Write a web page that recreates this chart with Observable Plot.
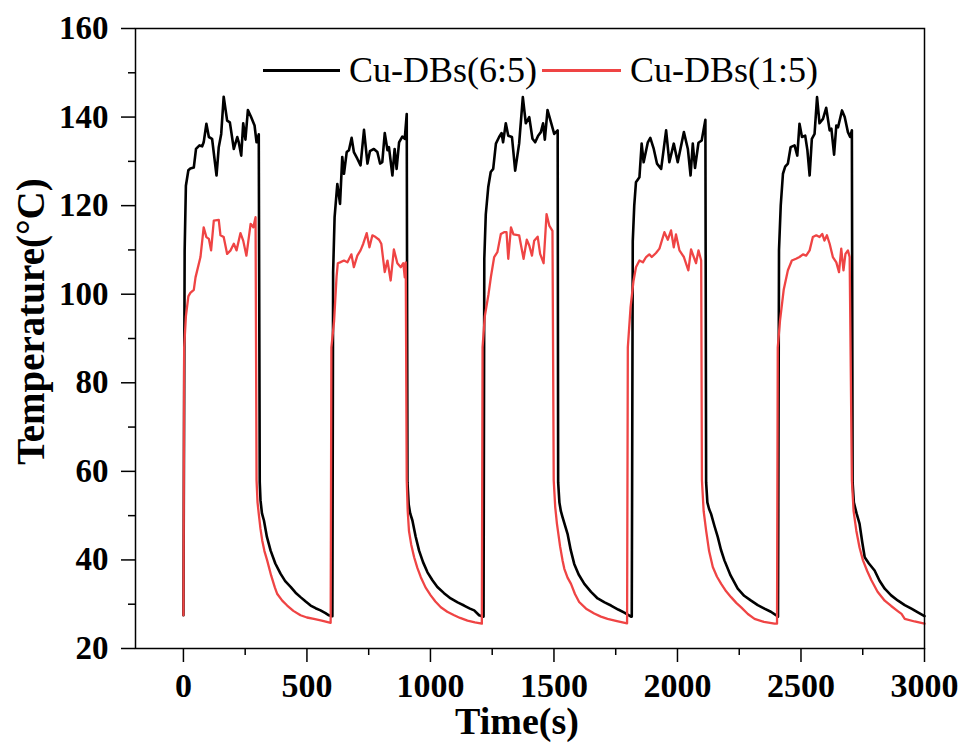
<!DOCTYPE html>
<html><head><meta charset="utf-8">
<script src="https://cdn.jsdelivr.net/npm/d3@7"></script>
<script src="https://cdn.jsdelivr.net/npm/@observablehq/plot@0.6"></script>
<style>
body{margin:0;background:#fff;}
#wrap{position:relative;width:963px;height:745px;}
.leg{position:absolute;font-family:"Liberation Serif","Times New Roman",serif;font-size:36px;line-height:36px;color:#000;white-space:nowrap;}
.sw{position:absolute;height:3px;}
</style></head><body><div id="wrap"></div>
<script>
const seriesNames = ["Cu-DBs(6:5)", "Cu-DBs(1:5)"];
const seriesColors = ["#000000", "#ef4444"];
const xTitle = "Time(s)";
const yTitle = "Temperature(\u00B0C)";
const xTicks = [0, 500, 1000, 1500, 2000, 2500, 3000];
const xMinor = [250, 750, 1250, 1750, 2250, 2750];
const yTicks = [20, 40, 60, 80, 100, 120, 140, 160];
const yMinor = [30, 50, 70, 90, 110, 130, 150];

// Cu-DBs(6:5): [time (s), temperature (°C)]
const cu65 = [
 [0,27.5],[5,110],[10,124.5],[20,128],[28,128.4],[42,128.6],[51,132.8],[65,133.6],[76,133.4],[82,134.3],[93,138.5],[103,135.5],[116,135.1],[134,126.8],[143,133.2],[153,136.2],[163,144.6],[177,139.2],[188,138.8],[204,132.8],[218,135.5],[224,134.3],[234,131.3],[242,138.6],[251,134.9],[261,141.6],[274,140.0],[288,138.1],[296,134.3],[305,136.1],
 [309,57.5],[312,53.5],[318,50.5],[326,48.9],[338,45.2],[353,42.1],[372,39.2],[393,36.9],[412,35.2],[434,33.9],[454,32.6],[474,31.6],[495,30.6],[515,29.7],[535,29.1],[555,28.6],[575,28.0],[589,27.5],[600,27.3],
 [603,27.3],[606,105],[612,117.4],[623,124.9],[634,120.4],[643,131.0],[650,127.2],[661,132.1],[670,132.5],[681,135.3],[690,132.1],[704,130.6],[717,129.1],[731,137.1],[745,129.5],[755,132.3],[771,132.8],[785,132.1],[796,129.5],[805,129.8],[815,136.4],[826,132.5],[832,133.2],[846,126.8],[855,132.8],[863,128.3],[873,134.3],[886,135.6],[896,135.1],[904,140.7],
 [907,57.5],[912,52.5],[918,50.5],[927,48.9],[940,45.3],[954,42.1],[970,39.5],[988,37.2],[1008,35.4],[1028,33.9],[1055,32.5],[1082,31.3],[1110,30.4],[1136,29.7],[1160,29.0],[1177,28.6],[1197,27.5],[1212,27.2],
 [1215,27.2],[1218,108],[1224,118],[1234,124.2],[1244,127.6],[1254,128.3],[1265,134.0],[1278,135.5],[1288,136.4],[1294,134.3],[1305,138.6],[1315,135.8],[1330,135.5],[1343,127.9],[1359,134.0],[1374,144.5],[1386,138.6],[1400,140.0],[1413,135.1],[1424,134.3],[1436,135.8],[1447,136.6],[1456,138.6],[1463,134.9],[1474,141.6],[1488,138.8],[1501,136.2],[1515,137.0],
 [1517,57.5],[1522,53],[1528,51],[1535,49.6],[1555,45.9],[1568,42.2],[1582,39.1],[1600,36.7],[1623,34.6],[1650,32.8],[1677,31.3],[1705,30.4],[1731,29.7],[1760,28.8],[1785,28.1],[1812,27.2],
 [1815,27.2],[1819,112],[1825,120],[1832,125.3],[1846,126.4],[1855,134.0],[1863,129.8],[1880,134.3],[1890,135.3],[1904,132.8],[1917,129.5],[1934,128.3],[1954,137.0],[1967,129.8],[1985,134.0],[2001,129.8],[2026,136.6],[2042,132.8],[2053,126.8],[2062,134.0],[2071,128.5],[2085,134.2],[2098,134.7],[2113,139.4],
 [2116,57.5],[2121,53],[2128,51.5],[2136,50.4],[2150,47.6],[2163,45.2],[2176,42.3],[2190,39.9],[2215,36.5],[2244,33.5],[2270,31.9],[2298,30.8],[2325,29.8],[2352,29.0],[2378,28.3],[2400,27.5],[2407,27.2],
 [2411,110],[2418,120],[2427,127.2],[2436,128.8],[2447,129.5],[2458,133.2],[2474,133.6],[2485,131.3],[2494,138.5],[2504,135.5],[2517,135.8],[2526,132.5],[2535,126.8],[2544,135.1],[2555,136.2],[2565,144.5],[2575,138.6],[2589,139.6],[2602,142.1],[2616,137.0],[2623,137.4],[2634,131.5],[2643,138.1],[2650,137.7],[2666,141.5],[2677,140.0],[2690,136.6],[2699,135.5],[2706,137.0],
 [2709,57.5],[2714,53],[2725,50.5],[2737,48.2],[2748,44],[2758,40.6],[2775,39.2],[2798,37.6],[2818,35.3],[2839,33.5],[2865,32.0],[2893,30.8],[2920,29.8],[2947,29.0],[2975,28.1],[3000,27.3]
];

// Cu-DBs(1:5): [time (s), temperature (°C)]
const cu15 = [
 [0,27.5],[3,88],[10,95],[20,99.5],[28,100.3],[42,101],[49,103.8],[69,108.4],[82,115.1],[93,112.9],[103,112.5],[112,109.9],[123,116.6],[143,116.8],[150,113.3],[163,112.9],[177,109.1],[191,109.9],[204,111.4],[215,109.9],[231,113.8],[242,112.1],[255,108.7],[272,115.9],[283,115.1],[292,117.4],
 [296,58],[300,53],[305,50.4],[312,47],[319,44.4],[328,42],[339,39.9],[355,36.5],[370,33.8],[380,32.3],[400,30.8],[420,29.7],[445,28.5],[474,27.5],[500,27.0],[528,26.7],[560,26.3],[596,25.8],
 [599,88],[610,94],[620,104],[625,107],[634,107.2],[650,107.6],[664,107.2],[680,109.0],[690,106.1],[704,108.7],[717,109.9],[728,111.4],[742,113.8],[753,110.6],[765,113.3],[778,112.9],[792,112.3],[801,111.4],[815,105.0],[826,107.6],[839,103.1],[852,110.1],[866,107.0],[880,106.1],[890,107.0],[896,103.8],[900,107.2],
 [904,58],[908,51],[913,46.6],[922,43.5],[934,40.6],[947,38.2],[961,36.1],[980,33.8],[1001,32.0],[1020,30.6],[1042,29.3],[1068,28.3],[1096,27.5],[1120,26.9],[1150,26.3],[1180,25.9],[1208,25.6],
 [1211,88],[1220,95],[1235,100],[1245,104],[1258,108.4],[1271,109.5],[1285,113.6],[1298,114.0],[1308,114.0],[1315,108.0],[1326,115.1],[1336,113.5],[1359,113.3],[1377,108.0],[1390,112.3],[1400,111.0],[1411,108.7],[1420,112.1],[1434,113.0],[1444,109.1],[1458,107.0],[1470,118.1],[1481,115.5],[1494,114.3],
 [1499,58],[1505,52],[1512,48.2],[1525,43],[1535,39.8],[1542,38.0],[1555,36.0],[1569,34.6],[1585,32.3],[1602,30.5],[1630,29.0],[1663,27.9],[1690,27.2],[1717,26.7],[1755,26.2],[1796,25.7],
 [1799,88],[1810,97],[1822,103],[1832,106.1],[1846,107.6],[1860,107.2],[1873,108.4],[1886,109.0],[1896,108.4],[1913,109.3],[1927,110.3],[1947,114.0],[1961,112.3],[1974,114.4],[1985,110.6],[1994,113.5],[2008,109.9],[2026,108.4],[2044,105.4],[2055,110.1],[2066,108.4],[2075,107.0],[2085,109.9],[2096,107.6],
 [2099,58],[2106,51],[2116,46.6],[2128,42.0],[2143,38.4],[2160,36.2],[2177,34.6],[2197,32.9],[2217,31.6],[2238,30.3],[2258,29.3],[2285,27.8],[2312,26.7],[2350,26.0],[2393,25.6],[2403,25.6],
 [2406,88],[2415,94],[2430,101],[2447,105.4],[2463,107.6],[2480,108.0],[2494,108.4],[2508,109.0],[2521,108.7],[2535,109.9],[2548,112.9],[2562,113.3],[2575,112.9],[2586,113.6],[2595,112.1],[2605,113.3],[2616,111.4],[2629,108.4],[2643,107.2],[2654,105.0],[2663,110.3],[2672,105.4],[2680,109.1],[2690,109.9],[2697,108.4],
 [2706,58],[2713,51],[2724,46.6],[2737,42.8],[2751,39.9],[2768,37.5],[2785,35.4],[2810,32.8],[2839,30.8],[2865,29.6],[2893,28.4],[2907,27.8],[2920,26.7],[2960,26.1],[3000,25.6]
];

const dataA = cu65.map(([t, v]) => ({t, v}));
const dataB = cu15.map(([t, v]) => ({t, v}));

const font = '"Liberation Serif","Times New Roman",serif';
const chart = Plot.plot({
  width: 963, height: 745,
  marginLeft: 135, marginRight: 39, marginTop: 28, marginBottom: 97,
  x: {domain: [-194, 3000]},
  y: {domain: [20, 160]},
  style: {fontFamily: font, background: "white", color: "black", overflow: "visible"},
  marks: [
    Plot.axisX(xMinor, {tickSize: 7, strokeWidth: 1.5, tickFormat: () => "", label: null}),
    Plot.axisX(xTicks, {tickSize: 14, tickPadding: 10, strokeWidth: 1.5, fontSize: 34, fontWeight: "bold", tickFormat: d => String(d), label: null}),
    Plot.axisY(yMinor, {tickSize: 7, strokeWidth: 1.5, tickFormat: () => "", label: null}),
    Plot.axisY(yTicks, {tickSize: 14, tickPadding: 13, strokeWidth: 1.5, fontSize: 33, fontWeight: "bold", tickFormat: d => String(d), label: null}),
    Plot.line(dataA, {x: "t", y: "v", stroke: seriesColors[0], strokeWidth: 2.6}),
    Plot.line(dataB, {x: "t", y: "v", stroke: seriesColors[1], strokeWidth: 2.3}),
    Plot.frame({stroke: "#000", strokeWidth: 1.5}),
    Plot.text([xTitle], {frameAnchor: "middle", dx: -13, dy: 383, fontSize: 38, fontWeight: "bold", lineAnchor: "middle"}),
    Plot.text([yTitle], {frameAnchor: "middle", dx: -498, dy: -17, rotate: -90, fontSize: 39, fontWeight: "bold", lineAnchor: "middle"})
  ]
});
const wrap = document.getElementById("wrap");
wrap.appendChild(chart);

// legend
const legendItems = [
  {name: seriesNames[0], color: seriesColors[0], lx: 263, lw: 77, tx: 349},
  {name: seriesNames[1], color: seriesColors[1], lx: 542, lw: 79, tx: 630}
];
for (const it of legendItems) {
  const sw = document.createElement("div");
  sw.className = "sw";
  sw.style.left = it.lx + "px"; sw.style.top = "69px"; sw.style.width = it.lw + "px";
  sw.style.background = it.color;
  wrap.appendChild(sw);
  const tx = document.createElement("div");
  tx.className = "leg";
  tx.style.left = it.tx + "px"; tx.style.top = "52px";
  tx.textContent = it.name;
  wrap.appendChild(tx);
}
</script>
</body></html>
